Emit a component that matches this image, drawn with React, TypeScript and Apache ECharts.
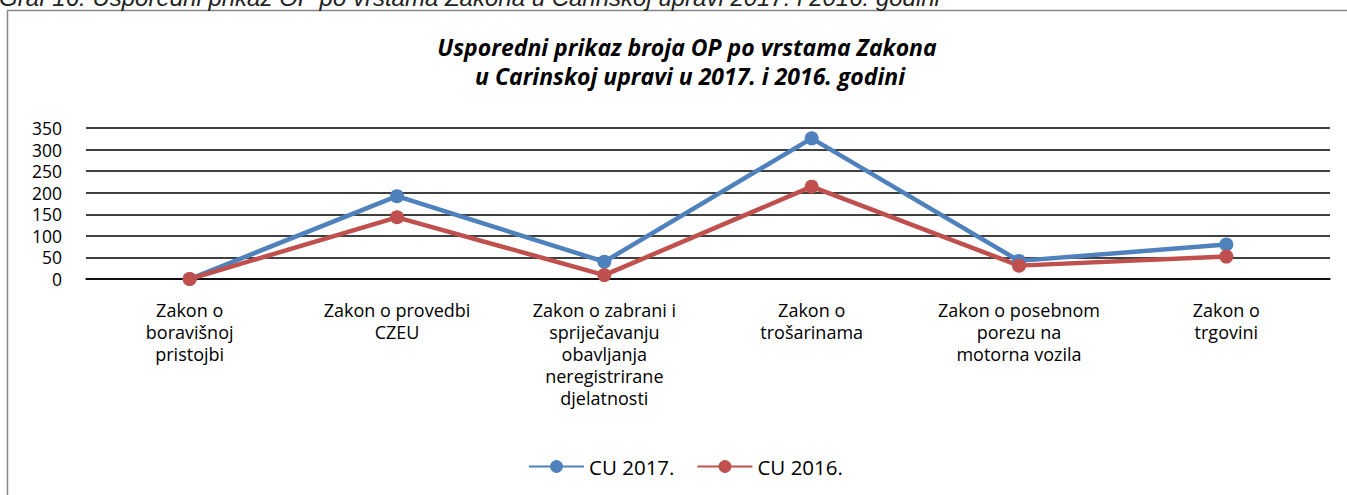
import React, { useEffect, useRef } from "react";
import * as echarts from "echarts";

const categories = [
  "Zakon o\nboravišnoj\npristojbi",
  "Zakon o provedbi\nCZEU",
  "Zakon o zabrani i\nspriječavanju\nobavljanja\nneregistrirane\ndjelatnosti",
  "Zakon o\ntrošarinama",
  "Zakon o posebnom\nporezu na\nmotorna vozila",
  "Zakon o\ntrgovini",
];
const cu2017 = [0, 192, 40, 326, 42, 80];
const cu2016 = [0, 143, 9, 214, 31, 52];
const seriesNames = ["CU 2017.", "CU 2016."];
const titleLines = [
  "Usporedni prikaz broja OP po vrstama Zakona",
  "u Carinskoj upravi u 2017. i 2016. godini",
];
const captionText = "Graf 16. Usporedni prikaz OP po vrstama Zakona u Carinskoj upravi 2017. i 2016. godini";

const FONT = "'Open Sans', Lato, sans-serif";

export default function App() {
  const ref = useRef<HTMLDivElement>(null);
  useEffect(() => {
    if (!ref.current) return;
    const chart = echarts.init(ref.current, null, { renderer: "svg" });
    chart.setOption({
      animation: false,
      backgroundColor: "#fff",
      textStyle: { fontFamily: FONT },
      graphic: [
        {
          type: "rect",
          shape: { x: 7.5, y: 10.5, width: 1400, height: 500 },
          style: { fill: "none", stroke: "#868686", lineWidth: 1.5 },
          silent: true,
        },
        {
          type: "text",
          x: -1,
          y: 9,
          style: {
            text: captionText,
            font: "italic 24px 'Liberation Sans', Arial, sans-serif",
            fill: "#222",
            verticalAlign: "bottom",
          },
          silent: true,
        },
        {
          type: "text",
          x: 687,
          y: 47,
          style: {
            text: titleLines[0],
            font: "italic bold 23px " + FONT,
            fill: "#000",
            align: "center",
            verticalAlign: "middle",
          },
          silent: true,
        },
        {
          type: "text",
          x: 690,
          y: 76,
          style: {
            text: titleLines[1],
            font: "italic bold 23px " + FONT,
            fill: "#000",
            align: "center",
            verticalAlign: "middle",
          },
          silent: true,
        },
      ],
      legend: {
        top: 451,
        left: 523,
        itemWidth: 55,
        itemHeight: 16,
        itemGap: 22,
        textStyle: { fontSize: 20.5, color: "#000", fontFamily: FONT },
        data: seriesNames,
      },
      grid: { left: 86, right: 17, top: 128, bottom: 216 },
      xAxis: {
        type: "category",
        data: categories,
        boundaryGap: true,
        axisLine: { show: true, lineStyle: { color: "#000", width: 1.5 } },
        axisTick: { show: false },
        axisLabel: {
          interval: 0,
          margin: 20,
          fontSize: 18,
          lineHeight: 22,
          color: "#000",
          fontFamily: FONT,
        },
      },
      yAxis: {
        type: "value",
        min: 0,
        max: 350,
        interval: 50,
        axisLine: { show: false },
        axisTick: { show: false },
        axisLabel: {
          fontSize: 17.5,
          lineHeight: 18,
          color: "#000",
          margin: 24,
          fontFamily: FONT,
        },
        splitLine: { lineStyle: { color: "#000", width: 1.5 } },
      },
      series: [
        {
          name: seriesNames[0],
          type: "line",
          data: cu2017,
          symbol: "circle",
          symbolSize: 14,
          lineStyle: { width: 4.5, color: "#4F81BD" },
          itemStyle: { color: "#4F81BD" },
        },
        {
          name: seriesNames[1],
          type: "line",
          data: cu2016,
          symbol: "circle",
          symbolSize: 14,
          lineStyle: { width: 4.5, color: "#C0504D" },
          itemStyle: { color: "#C0504D" },
        },
      ],
    });
    return () => chart.dispose();
  }, []);
  return (
    <div
      ref={ref}
      style={{ position: "fixed", left: 0, top: 0, width: 1347, height: 495 }}
    />
  );
}
